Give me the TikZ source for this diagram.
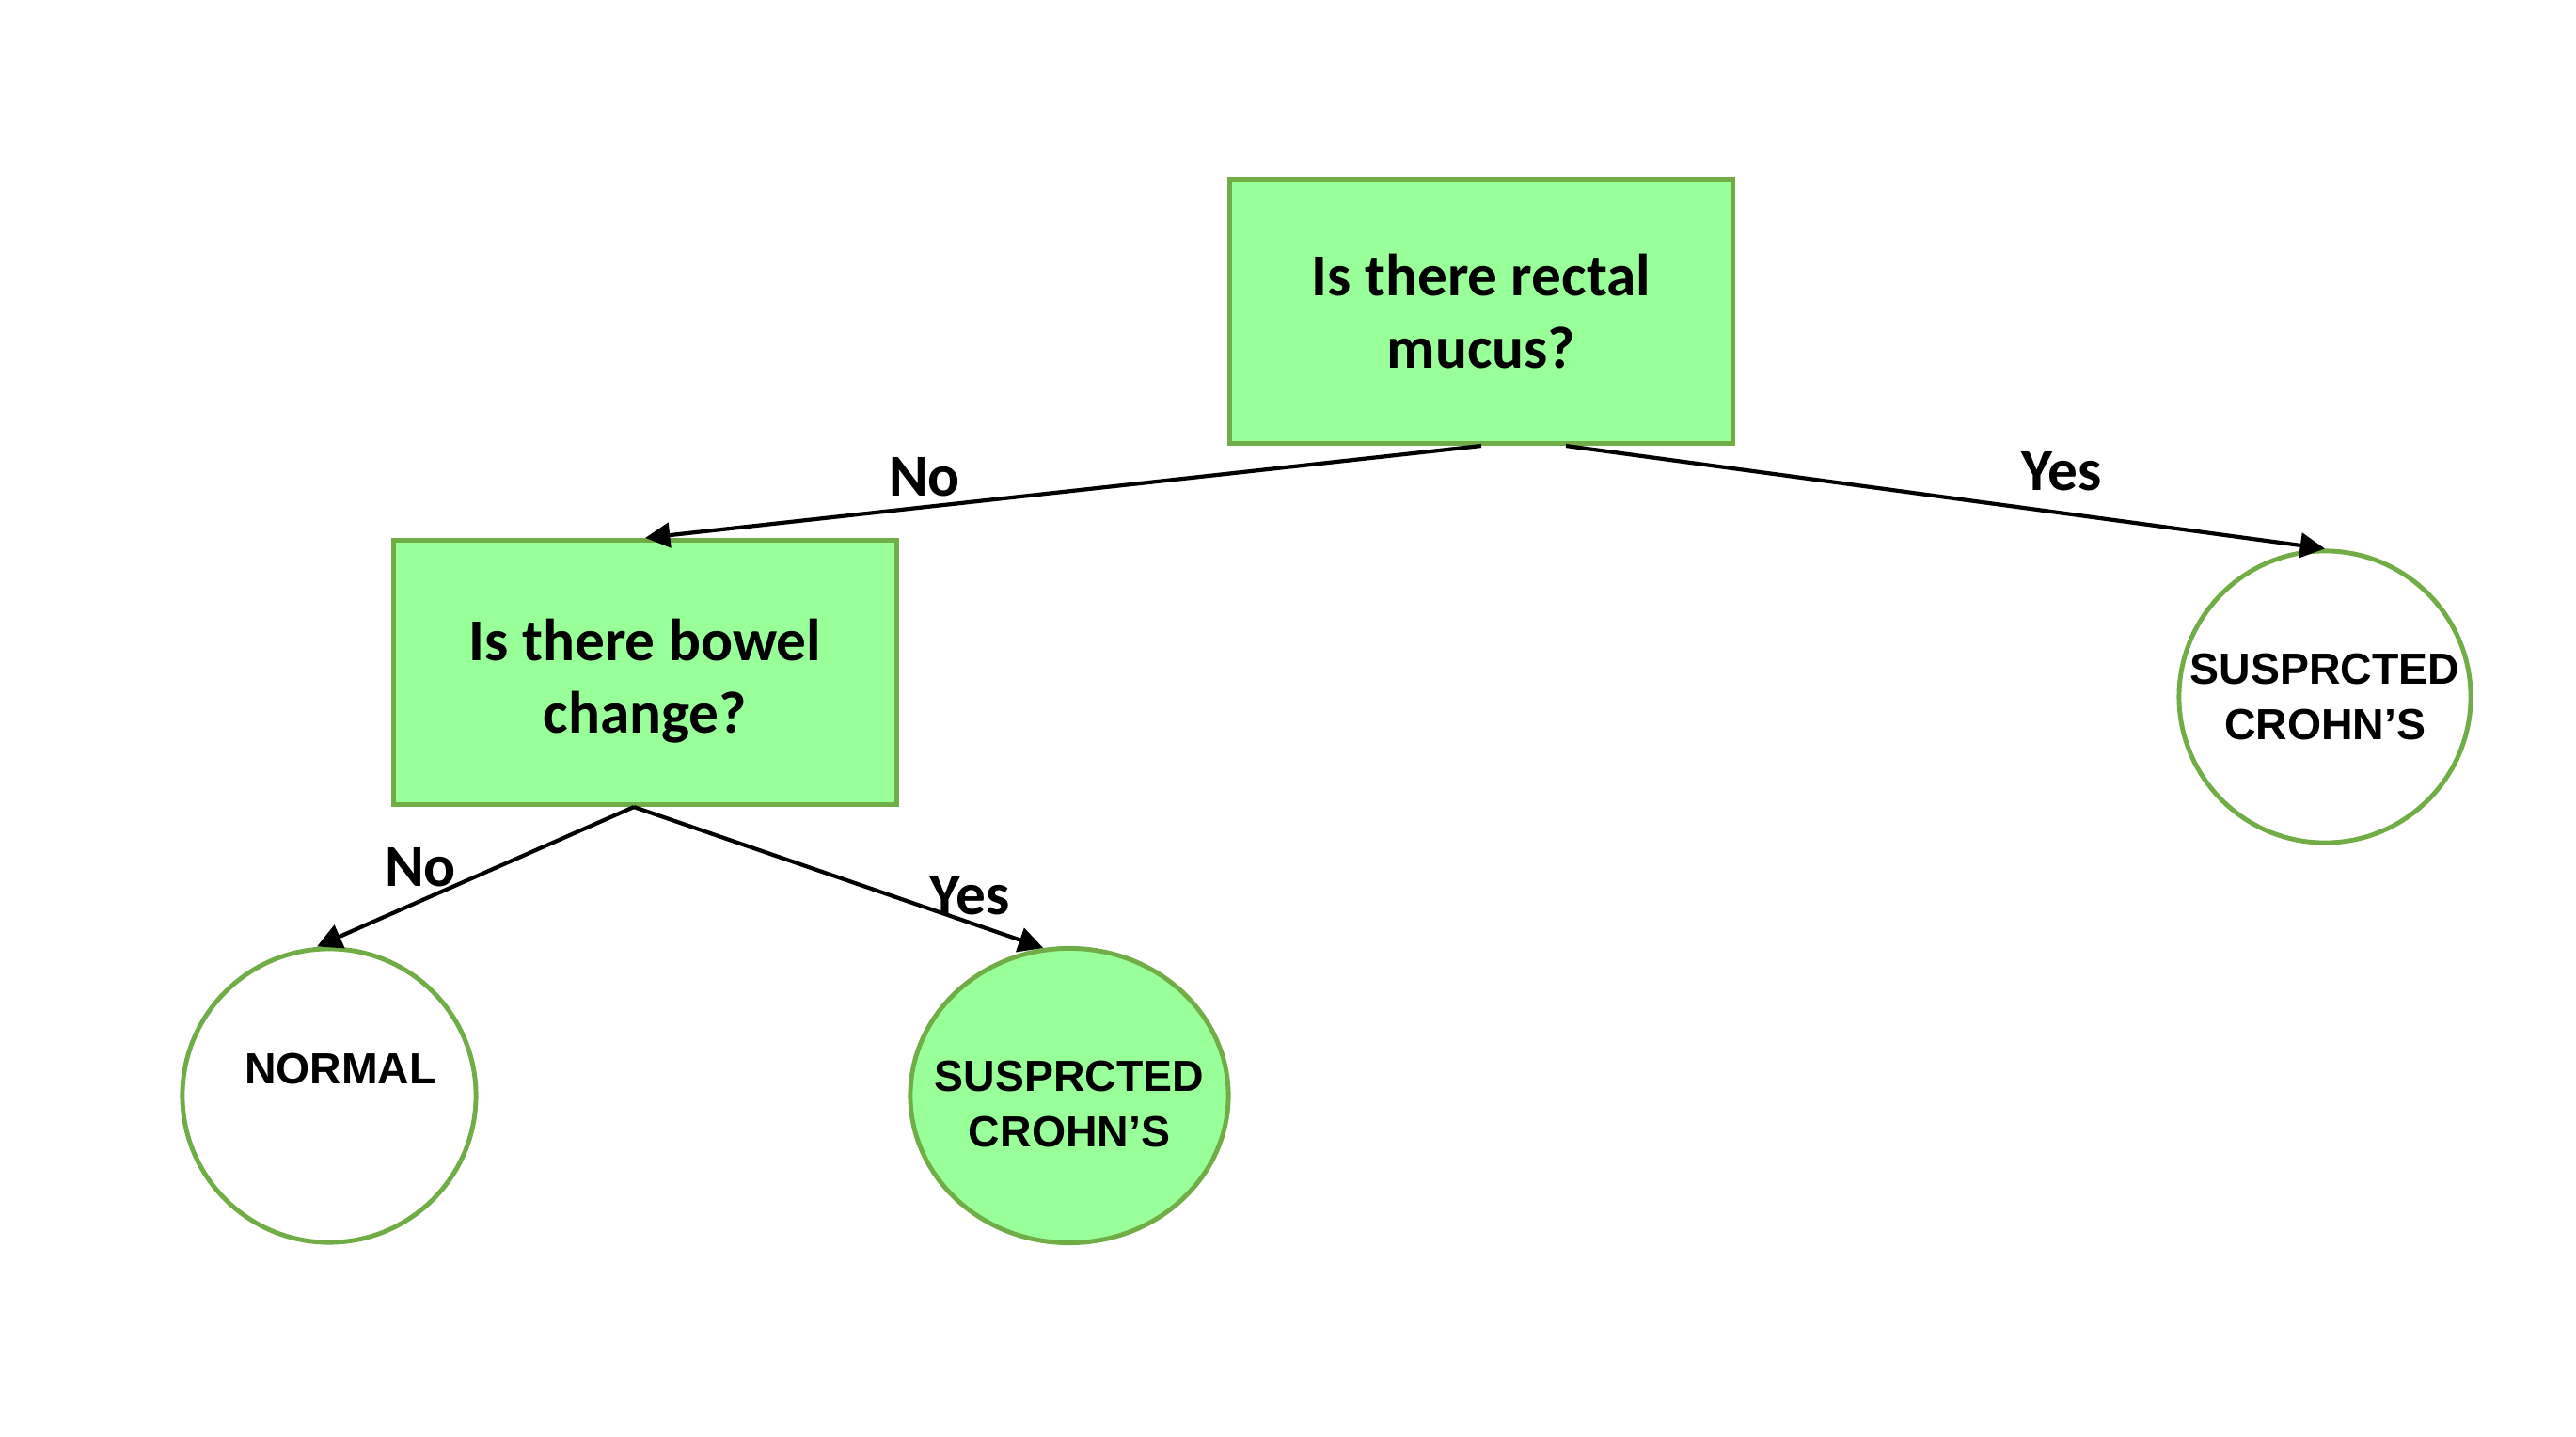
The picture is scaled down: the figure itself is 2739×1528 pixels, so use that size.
\documentclass[tikz,border=0pt]{standalone}
\usepackage{fontspec}
\setmainfont{Carlito}
\newfontfamily\circfont{Liberation Sans}
\usetikzlibrary{arrows.meta,calc,shapes.geometric}
\definecolor{boxfill}{HTML}{99FF99}
\definecolor{boxline}{HTML}{70AD47}
\begin{document}
\begin{tikzpicture}[x=0.01cm,y=-0.01cm,
  qbox/.style={draw=boxline,fill=boxfill,line width=1.4pt,minimum width=5.35cm,minimum height=2.81cm,inner sep=0pt,align=center,font=\fontsize{18}{22}\selectfont\bfseries},
  boxtxt/.style={inner sep=0pt,align=center,font=\fontsize{18}{22}\selectfont\bfseries},
  endcirc/.style={draw=boxline,line width=1.4pt,circle,inner sep=0pt,align=center,font=\circfont\fontsize{13.2}{17}\selectfont\bfseries},
  circtxt/.style={inner sep=0pt,align=center,font=\circfont\fontsize{13.2}{17}\selectfont\bfseries},
  conn/.style={line width=1.2pt,-{Triangle[length=7.5pt,width=7.5pt]}},
  lbl/.style={font=\fontsize{18}{22}\selectfont\bfseries,inner sep=0pt}]
\useasboundingbox (0,0) rectangle (2739,1528);
\node[qbox] (top) at (1575,331) {Is there rectal\\mucus?};
\node[qbox,label={[boxtxt,yshift=-0.09cm]center:Is there bowel\\change?}] (mid) at (686,715) {};
\node[endcirc,minimum size=3.1cm,fill=white] (right) at (2472,741) {SUSPRCTED\\CROHN’S};
\node[endcirc,minimum size=3.12cm,fill=white,label={[circtxt,xshift=0.12cm,yshift=0.28cm]center:NORMAL}] (normal) at (350,1165) {};
\node[draw=boxline,line width=1.4pt,ellipse,inner sep=0pt,minimum width=3.38cm,minimum height=3.13cm,fill=boxfill,label={[circtxt,yshift=-0.09cm]center:SUSPRCTED\\CROHN’S}] (yes2) at (1137,1165) {};
\draw[conn] (top.south) -- (mid.north);
\draw[conn] ([xshift=0.9cm]top.south) -- (right.north);
\draw[conn] ([xshift=-0.12cm]mid.south) -- ([xshift=-0.13cm]normal.north);
\draw[conn] ([xshift=-0.12cm]mid.south) -- (yes2.100);
\node[lbl] (l1) at (983,507) {No};
\node[lbl] (l2) at (2192,501) {Yes};
\node[lbl] (l3) at (447,922) {No};
\node[lbl] (l4) at (1031,952) {Yes};
\end{tikzpicture}
\end{document}
